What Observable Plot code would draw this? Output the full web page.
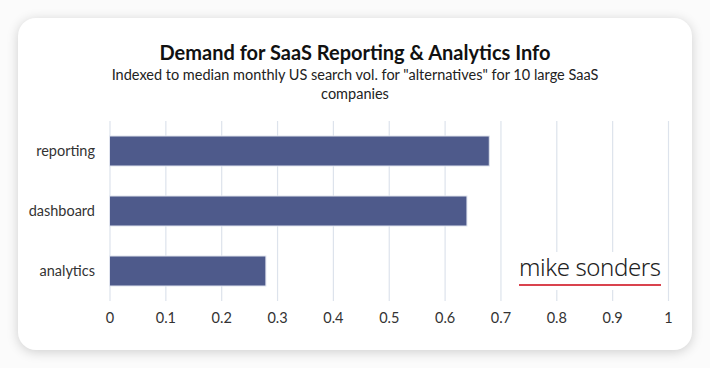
<!DOCTYPE html>
<html>
<head>
<meta charset="utf-8">
<script src="https://cdn.jsdelivr.net/npm/d3@7"></script>
<script src="https://cdn.jsdelivr.net/npm/@observablehq/plot@0.6"></script>
<style>
  html, body { margin: 0; padding: 0; background: #fbfbfb; width: 710px; height: 368px; overflow: hidden; }
  #card { position: absolute; left: 18px; top: 18px; width: 674px; height: 332px; background: #fff;
          border-radius: 18px; box-shadow: 0 2px 12px rgba(0,0,0,0.18); font-family: Lato, sans-serif; }
  #title { position: absolute; left: 0; width: 674px; top: 22px; text-align: center; font-weight: 700; font-size: 20px; color: #111; }
  #subtitle { position: absolute; left: 90px; width: 494px; top: 47px; text-align: center; font-size: 14.5px; line-height: 19px; color: #222; }
  #chart { position: absolute; left: 0; top: 96px; }
  #logo { position: absolute; left: 499px; top: 234px; background: #fff; padding: 2px 2px 4px 2px;
          font-family: "Noto Sans", sans-serif; font-weight: 300; font-size: 24px; line-height: 26px; color: #222; letter-spacing: -0.4px; }
  #logo span { display: inline-block; border-bottom: 2px solid #d9434e; padding-bottom: 4px; }
</style>
</head>
<body>
<div id="card">
  <div id="title">Demand for SaaS Reporting &amp; Analytics Info</div>
  <div id="subtitle">Indexed to median monthly US search vol. for "alternatives" for 10 large SaaS companies</div>
  <div id="chart"></div>
  <div id="logo"><span>mike sonders</span></div>
</div>
<script>
const categories = ["reporting", "dashboard", "analytics"];
const values = [0.68, 0.64, 0.28];
const xTicks = [0, 0.1, 0.2, 0.3, 0.4, 0.5, 0.6, 0.7, 0.8, 0.9, 1];

const data = categories.map((c, i) => ({category: c, value: values[i]}));

const chart = Plot.plot({
  width: 674,
  height: 225,
  marginLeft: 91.5,
  marginRight: 24,
  marginTop: 7,
  marginBottom: 38,
  style: {fontFamily: "Lato, sans-serif", fontSize: "14.5px", color: "#333", background: "transparent"},
  x: {domain: [0, 1], ticks: xTicks, tickFormat: d => String(d), label: null},
  y: {domain: categories, paddingInner: 0.5, paddingOuter: 0.24, label: null},
  marks: [
    Plot.gridX(xTicks, {stroke: "#dde3ec", strokeOpacity: 1, strokeWidth: 1.2}),
    Plot.barX(data, {x: "value", y: "category", fill: "#4e5a8b", stroke: "#dfe3ee", strokeWidth: 1}),
    Plot.axisX(xTicks, {tickSize: 0, tickPadding: 11, tickFormat: d => String(d), fontSize: 14.5, label: null}),
    Plot.axisY({tickSize: 0, tickPadding: 15, fontSize: 14.5, label: null})
  ]
});
document.getElementById("chart").appendChild(chart);
</script>
</body>
</html>
